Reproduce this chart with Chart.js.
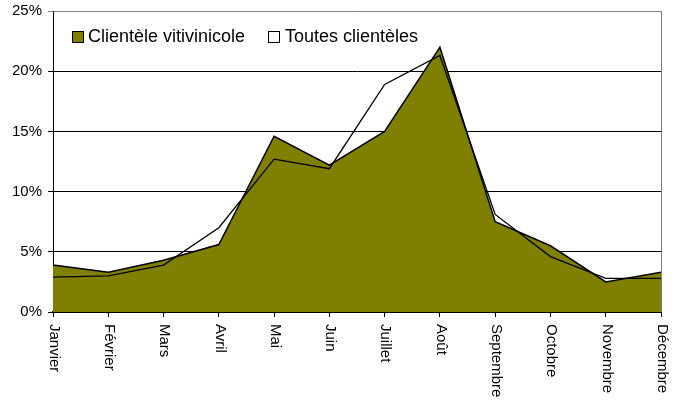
<!DOCTYPE html>
<html>
<head>
<meta charset="utf-8">
<script src="https://cdn.jsdelivr.net/npm/chart.js@4"></script>
<style>
  html, body { margin: 0; padding: 0; background: #fff; }
  #chart { display: block; }
</style>
</head>
<body>
<canvas id="chart" width="675" height="401"></canvas>
<script>
const months = ["Janvier", "Février", "Mars", "Avril", "Mai", "Juin", "Juillet", "Août", "Septembre", "Octobre", "Novembre", "Décembre"];
const vitivinicole = [3.9, 3.3, 4.3, 5.6, 14.6, 12.2, 15.0, 22.0, 7.5, 5.5, 2.5, 3.3];
const toutes = [2.9, 3.0, 3.9, 7.0, 12.7, 11.9, 18.9, 21.3, 8.1, 4.6, 2.8, 2.8];
const seriesNames = ["Clientèle vitivinicole", "Toutes clientèles"];

const FONT = "Arial, 'Liberation Sans', sans-serif";

// month labels rotated clockwise, legend inside the plot, grey right border
const extras = {
  id: "extras",
  afterDraw(chart) {
    const ctx = chart.ctx;
    const area = chart.chartArea;
    const x = chart.scales.x;

    ctx.save();
    ctx.strokeStyle = "#808080";
    ctx.lineWidth = 1;
    ctx.beginPath();
    ctx.moveTo(Math.round(area.right) + 0.5, area.top);
    ctx.lineTo(Math.round(area.right) + 0.5, area.bottom);
    ctx.stroke();

    ctx.fillStyle = "#000";
    ctx.font = "15px " + FONT;
    ctx.textAlign = "left";
    ctx.textBaseline = "middle";
    months.forEach((m, i) => {
      ctx.save();
      ctx.translate(x.getPixelForValue(i) + 1, area.bottom + 12);
      ctx.rotate(Math.PI / 2);
      ctx.fillText(m, 0, 0);
      ctx.restore();
    });

    // legend
    const items = [
      { text: seriesNames[0], fill: "#808000", bx: 72, tx: 88 },
      { text: seriesNames[1], fill: "#ffffff", bx: 268, tx: 285 }
    ];
    ctx.font = "18px " + FONT;
    ctx.textBaseline = "alphabetic";
    items.forEach((it) => {
      ctx.fillStyle = it.fill;
      ctx.fillRect(it.bx, 31, 12, 12);
      ctx.strokeStyle = "#000";
      ctx.strokeRect(it.bx + 0.5, 31.5, 11, 11);
      ctx.fillStyle = "#000";
      ctx.fillText(it.text, it.tx, 42);
    });
    ctx.restore();
  }
};

new Chart(document.getElementById("chart"), {
  type: "line",
  data: {
    labels: months,
    datasets: [
      {
        label: seriesNames[0],
        data: vitivinicole,
        fill: "origin",
        backgroundColor: "#808000",
        borderColor: "#000000",
        borderWidth: 1.5,
        pointRadius: 0,
        tension: 0,
        order: 1
      },
      {
        label: seriesNames[1],
        data: toutes,
        fill: false,
        backgroundColor: "#ffffff",
        borderColor: "#000000",
        borderWidth: 1.3,
        pointRadius: 0,
        tension: 0,
        order: 0
      }
    ]
  },
  options: {
    responsive: false,
    animation: false,
    layout: { padding: { left: 0, right: 14, top: 11, bottom: 0 } },
    plugins: {
      legend: { display: false },
      tooltip: { enabled: false }
    },
    scales: {
      x: {
        offset: false,
        grid: { drawOnChartArea: false, drawTicks: true, tickLength: 5, color: "#000" },
        border: { color: "#000", width: 2 },
        ticks: { display: false },
        afterFit: (s) => { s.height = 89; s.paddingLeft = 0; s.paddingRight = 0; }
      },
      y: {
        min: 0,
        max: 25,
        ticks: {
          stepSize: 5,
          padding: 6,
          color: "#000",
          font: { family: FONT, size: 15 },
          callback: (v) => v + "%"
        },
        grid: {
          tickLength: 5,
          color: (c) => (c.tick && c.tick.value === 25 ? "#808080" : "#000")
        },
        border: { color: "#000", width: 1 },
        afterFit: (s) => { s.width = 53; s.paddingTop = 0; s.paddingBottom = 0; }
      }
    }
  },
  plugins: [extras]
});
</script>
</body>
</html>
